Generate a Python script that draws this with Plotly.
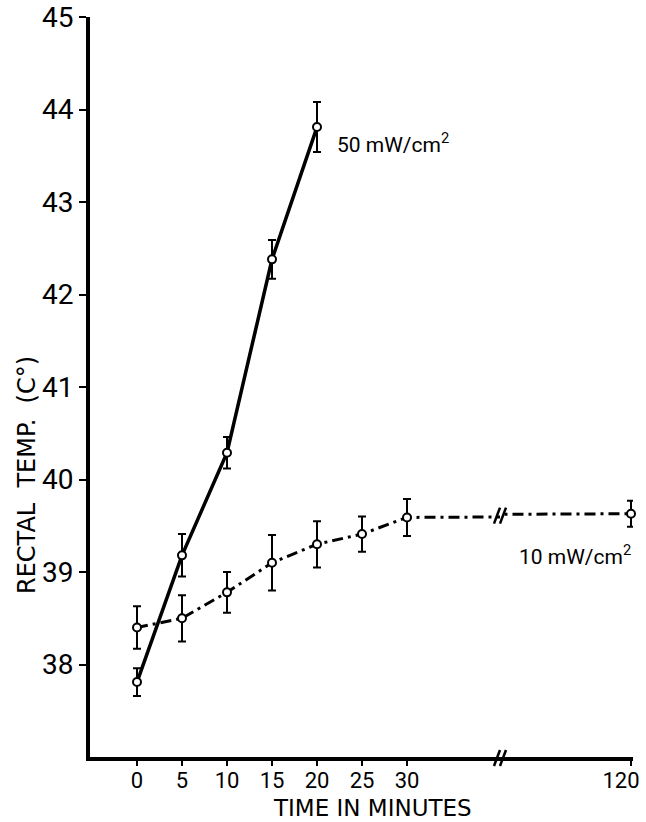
import plotly.graph_objects as go

# ---- data ----
time_50 = [0, 5, 10, 15, 20]
temp_50 = [37.81, 39.18, 40.29, 42.38, 43.81]
err_50 = [0.15, 0.23, 0.17, 0.21, 0.27]

time_10 = [0, 5, 10, 15, 20, 25, 30, 120]
temp_10 = [38.40, 38.50, 38.78, 39.10, 39.30, 39.41, 39.59, 39.63]
err_10 = [0.23, 0.25, 0.22, 0.30, 0.25, 0.19, 0.20, 0.14]

x_ticks_early = [0, 5, 10, 15, 20, 25, 30]
x_ticks_late = [120]
y_ticks = [38, 39, 40, 41, 42, 43, 44, 45]

label_50 = "50 mW/cm<sup>2</sup>"
label_10 = "10 mW/cm<sup>2</sup>"
x_title = "TIME IN MINUTES"
y_title = "RECTAL\u00a0 TEMP.\u00a0 (C°)"

FONT = "Roboto"
TFONT = "DejaVu Sans"
W, H = 646, 822
L, R, T, B = 90, 13, 17, 65
pw = W - L - R
ph = H - T - B
split = (500 - L) / pw

marker = dict(symbol="circle", size=8, color="white", line=dict(color="black", width=2))
eb = dict(type="data", thickness=2, width=4, color="black")

fig = go.Figure()

fig.add_trace(go.Scatter(
    x=time_50, y=temp_50, mode="lines+markers", xaxis="x", yaxis="y",
    line=dict(color="black", width=3.5), marker=marker,
    error_y=dict(array=err_50, **eb), showlegend=False))

dash = "11px,5px,3px,5px"
fig.add_trace(go.Scatter(
    x=time_10, y=temp_10, mode="lines+markers", xaxis="x", yaxis="y",
    line=dict(color="black", width=3, dash=dash), marker=marker,
    error_y=dict(array=err_10, **eb), showlegend=False))

fig.add_trace(go.Scatter(
    x=time_10, y=temp_10, mode="lines+markers", xaxis="x2", yaxis="y",
    line=dict(color="black", width=3, dash=dash), marker=marker,
    error_y=dict(array=err_10, **eb), showlegend=False, cliponaxis=False))

px_per_min = 9.0
x1_range = [(L - 137) / px_per_min, (500 - 137) / px_per_min]
x2_range = [120 - (631 - 500) / px_per_min, 120 + (633 - 631) / px_per_min]

tickfont_x = dict(family=FONT, size=22, color="black")
common_x = dict(showgrid=False, zeroline=False, showline=True, linecolor="black",
                linewidth=3.5, ticks="outside", ticklen=5, tickwidth=2,
                tickcolor="black", tickfont=tickfont_x, automargin=False,
                ticklabelstandoff=-4, ticklabeloverflow="allow")

fig.update_layout(
    width=W, height=H, margin=dict(l=L, r=R, t=T, b=B, autoexpand=False),
    plot_bgcolor="white", paper_bgcolor="white",
    xaxis=dict(domain=[0, split], range=x1_range, tickmode="array",
               tickvals=x_ticks_early, ticktext=[str(v) for v in x_ticks_early],
               anchor="y", **common_x),
    xaxis2=dict(domain=[split, 1], range=x2_range, tickmode="array",
                tickvals=x_ticks_late, ticktext=[str(v) for v in x_ticks_late],
                anchor="y", ticklabelshift=-10, **common_x),
    yaxis=dict(range=[37, 45], tickmode="array", tickvals=y_ticks,
               ticktext=[str(v) for v in y_ticks], ticksuffix="\u2002",
               showgrid=False, zeroline=False,
               showline=True, linecolor="black", linewidth=4, ticks="outside",
               ticklen=7, tickwidth=2, tickcolor="black",
               tickfont=dict(family=FONT, size=28, color="black"),
               anchor="x", automargin=False),
    font=dict(family=FONT, color="black"),
)

# x axis line continuation after the break
fig.add_shape(type="line", xref="paper", yref="paper", x0=split, x1=1,
              y0=-1.75 / ph, y1=-1.75 / ph, line=dict(color="black", width=3.5))

# axis titles
fig.add_annotation(text=x_title, xref="paper", yref="paper",
                   x=(372 - L) / pw, y=-(808 - (T + ph)) / ph,
                   xanchor="center", yanchor="middle", showarrow=False,
                   font=dict(family=TFONT, size=23, color="black"))
fig.add_annotation(text=y_title, xref="paper", yref="paper",
                   x=(27 - L) / pw, y=((T + ph) - 475) / ph, textangle=-90,
                   xanchor="center", yanchor="middle", showarrow=False,
                   font=dict(family=TFONT, size=24, color="black"))

# series labels
fig.add_annotation(text=label_50, xref="x", yref="y", x=22, y=43.64,
                   xanchor="left", yanchor="middle", showarrow=False,
                   font=dict(family=FONT, size=21, color="black"))
fig.add_annotation(text=label_10, xref="x2", yref="y", x=107.3, y=39.18,
                   xanchor="left", yanchor="middle", showarrow=False,
                   font=dict(family=FONT, size=21, color="black"))

# break marks
dx = 3 / pw
for off in (-3 / pw, 3 / pw):
    fig.add_shape(type="line", xref="paper", yref="paper",
                  x0=split + off - dx, x1=split + off + dx,
                  y0=-9 / ph, y1=7 / ph, line=dict(color="black", width=2.5))
    fig.add_shape(type="line", xref="paper", yref="y",
                  x0=split + off - dx, x1=split + off + dx,
                  y0=39.61 - 8 / 92.5, y1=39.61 + 8 / 92.5,
                  line=dict(color="black", width=2.5))

fig.write_html("out.html", config={"displayModeBar": False},
               post_script="document.body.style.margin='0px';")
